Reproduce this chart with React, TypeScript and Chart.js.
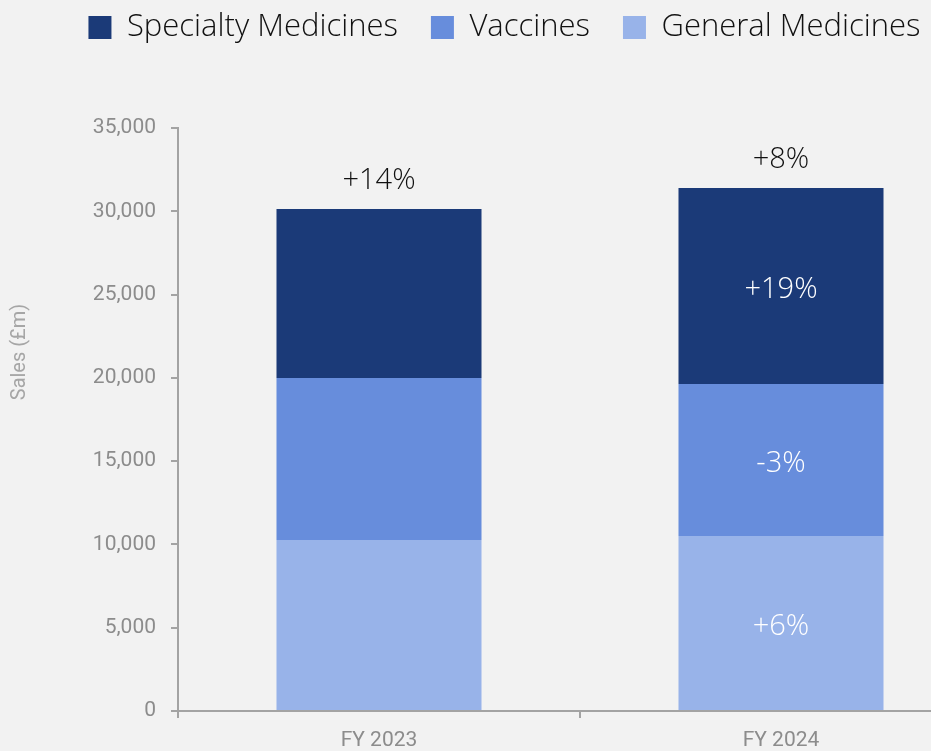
import React, { useEffect, useRef } from 'react';
import { Chart, registerables } from 'chart.js';

Chart.register(...registerables);

const categories = ['FY 2023', 'FY 2024'];
const generalValues = [10270, 10510];
const vaccinesValues = [9720, 9120];
const specialtyValues = [10150, 11770];
const totalLabels = ['+14%', '+8%'];
const generalLabels = ['', '+6%'];
const vaccinesLabels = ['', '-3%'];
const specialtyLabels = ['', '+19%'];
const yMax = 35000;
const yStep = 5000;
const yTitle = 'Sales (£m)';

const segmentLabels = [generalLabels, vaccinesLabels, specialtyLabels];

const AXIS_GRAY = '#a3a3a3';
const TICK_GRAY = '#8c8c8c';
const OFFSET_Y = 21;

const labelPlugin = {
  id: 'valueLabels',
  afterDatasetsDraw(chart: any) {
    const ctx = chart.ctx;
    ctx.save();
    ctx.textAlign = 'center';
    ctx.textBaseline = 'middle';
    ctx.font = '300 29px "Open Sans"';
    chart.data.datasets.forEach((_ds: any, i: number) => {
      const meta = chart.getDatasetMeta(i);
      const labels = segmentLabels[i];
      meta.data.forEach((bar: any, j: number) => {
        const t = labels[j];
        if (!t) return;
        ctx.fillStyle = '#ffffff';
        ctx.fillText(t, bar.x, (bar.y + bar.base) / 2 + 4);
      });
    });
    const topMeta = chart.getDatasetMeta(chart.data.datasets.length - 1);
    topMeta.data.forEach((bar: any, j: number) => {
      ctx.fillStyle = '#111111';
      ctx.fillText(totalLabels[j], bar.x, bar.y - 28);
    });
    ctx.restore();

    ctx.save();
    ctx.translate(20, 352 + OFFSET_Y);
    ctx.rotate(-Math.PI / 2);
    ctx.textAlign = 'center';
    ctx.textBaseline = 'middle';
    ctx.font = '20px Roboto';
    ctx.fillStyle = '#a6a6a6';
    ctx.fillText(yTitle, 0, 0);
    ctx.restore();
  },
};

export default function App() {
  const ref = useRef<HTMLCanvasElement | null>(null);

  useEffect(() => {
    if (!ref.current) return;
    const chart = new Chart(ref.current, {
      type: 'bar',
      data: {
        labels: categories,
        datasets: [
          { label: 'General Medicines', data: generalValues, backgroundColor: '#98b3e9', borderWidth: 0 },
          { label: 'Vaccines', data: vaccinesValues, backgroundColor: '#678ddc', borderWidth: 0 },
          { label: 'Specialty Medicines', data: specialtyValues, backgroundColor: '#1b3a78', borderWidth: 0 },
        ],
      },
      options: {
        animation: false,
        responsive: false,
        datasets: { bar: { categoryPercentage: 1, barPercentage: 0.51 } },
        layout: { padding: { left: 27, right: 27, top: 0, bottom: 0 } },
        plugins: {
          legend: {
            position: 'top',
            reverse: true,
            labels: {
              boxWidth: 23,
              boxHeight: 23,
              padding: 33,
              color: '#111111',
              font: { family: '"Open Sans"', size: 31, weight: '300' as any },
            },
          },
          title: {
            display: true,
            text: '',
            weight: 500,
            padding: { top: 0, bottom: 59 },
            font: { size: 16, lineHeight: 1 },
          } as any,
          tooltip: { enabled: false },
        },
        scales: {
          x: {
            stacked: true,
            grid: { drawOnChartArea: false, drawTicks: true, tickLength: 7, color: AXIS_GRAY, lineWidth: 2, offset: true },
            border: { display: true, color: AXIS_GRAY, width: 2 },
            ticks: { color: TICK_GRAY, font: { family: 'Roboto', size: 21 }, padding: 10 },
            afterFit: (s: any) => { s.height = 40; },
          },
          y: {
            stacked: true,
            min: 0,
            max: yMax,
            grid: { drawOnChartArea: false, drawTicks: true, tickLength: 7, color: AXIS_GRAY, lineWidth: 2 },
            border: { display: true, color: AXIS_GRAY, width: 2 },
            ticks: {
              stepSize: yStep,
              color: TICK_GRAY,
              font: { family: 'Roboto', size: 21 },
              padding: 15,
              callback: (v: any) => Number(v).toLocaleString('en-US'),
            },
            afterFit: (s: any) => { s.width = 151; },
          },
        },
      },
      plugins: [labelPlugin],
    });
    return () => chart.destroy();
  }, []);

  return (
    <div style={{ position: 'fixed', left: 0, top: 0, width: 931, height: 751, overflow: 'hidden', background: '#f2f2f2' }}>
      <div style={{ position: 'absolute', left: 0, top: -OFFSET_Y, width: 1009, height: 751 + OFFSET_Y }}>
        <canvas ref={ref} width={1009} height={751 + OFFSET_Y} style={{ display: 'block' }} />
      </div>
    </div>
  );
}
